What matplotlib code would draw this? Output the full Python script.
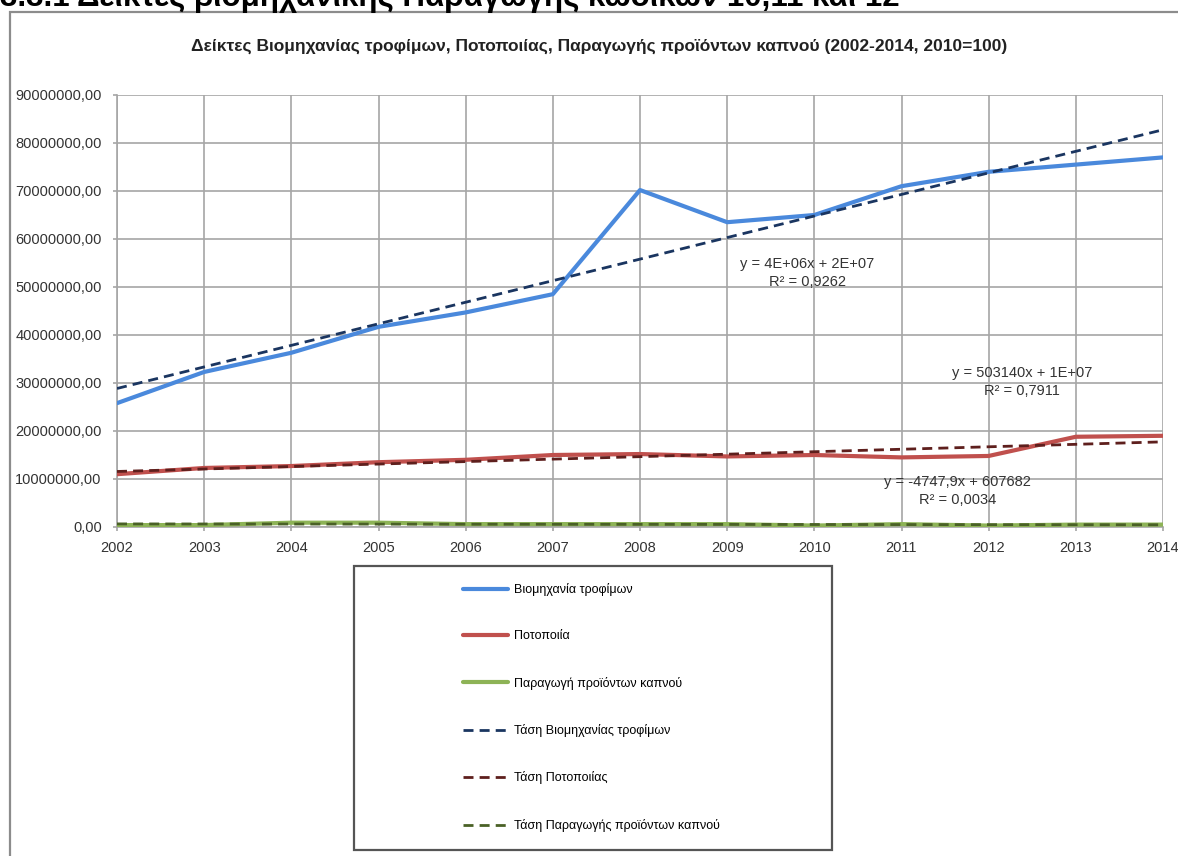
import numpy as np
import matplotlib
matplotlib.use('Agg')
import matplotlib.pyplot as plt
from matplotlib.patches import Rectangle
from matplotlib.ticker import FuncFormatter

# data
years = [2002, 2003, 2004, 2005, 2006, 2007, 2008, 2009, 2010, 2011, 2012, 2013, 2014]
food = [25.8e6, 32.3e6, 36.3e6, 41.7e6, 44.7e6, 48.5e6, 70.2e6, 63.5e6, 65.0e6, 71.0e6, 74.0e6, 75.5e6, 77.0e6]
drinks = [11.0e6, 12.3e6, 12.7e6, 13.5e6, 14.0e6, 15.0e6, 15.2e6, 14.7e6, 15.0e6, 14.5e6, 14.8e6, 18.8e6, 19.0e6]
tobacco = [0.4e6, 0.4e6, 0.9e6, 0.9e6, 0.6e6, 0.6e6, 0.6e6, 0.6e6, 0.3e6, 0.6e6, 0.3e6, 0.5e6, 0.5e6]

series_names = ['Βιομηχανία τροφίμων', 'Ποτοποιία', 'Παραγωγή προϊόντων καπνού']
trend_names = ['Τάση Βιομηχανίας τροφίμων', 'Τάση Ποτοποιίας', 'Τάση Παραγωγής προϊόντων καπνού']
trend_labels = ['y = 4E+06x + 2E+07\nR² = 0,9262',
                'y = 503140x + 1E+07\nR² = 0,7911',
                'y = -4747,9x + 607682\nR² = 0,0034']
# where the equation boxes sit (year, value)
label_pos = [(2009.92, 52.9e6), (2012.38, 30.2e6), (2011.64, 7.5e6)]

line_colors = ['#4a89dc', '#c0504d', '#8db356']
trend_colors = ['#1a3560', '#5e1f1d', '#4a6126']

plt.rcParams['font.family'] = ['Liberation Sans', 'DejaVu Sans']

fig = plt.figure(figsize=(11.78, 8.56), dpi=100)

# document heading, cut by the top of the screenshot
fig.text(0.0, 1 - 6 / 856, '3.3.1 Δείκτες βιομηχανικής Παραγωγής κωδικών 10,11 και 12',
         fontsize=22.5, fontweight='bold', va='baseline', ha='left')

# chart frame
fig.patches.append(Rectangle((10 / 1178, -0.1), 1.2, 1 - 12 / 856 + 0.1,
                             transform=fig.transFigure, fill=False,
                             edgecolor='#8c8c8c', linewidth=1.6))

fig.text(599 / 1178, 1 - 46 / 856,
         'Δείκτες Βιομηχανίας τροφίμων, Ποτοποιίας, Παραγωγής προϊόντων καπνού (2002-2014, 2010=100)',
         fontsize=12.5, fontweight='bold', ha='center', va='center', color='#222222')

ax = fig.add_axes([117 / 1178, 1 - 527 / 856, (1163 - 117) / 1178, (527 - 95) / 856])

x = np.arange(1, len(years) + 1)
handles = []
for vals, name, col in zip([food, drinks, tobacco], series_names, line_colors):
    h, = ax.plot(years, vals, color=col, linewidth=3.0, label=name, solid_capstyle='round', zorder=3)
    handles.append(h)

for vals, name, col in zip([food, drinks, tobacco], trend_names, trend_colors):
    k, b = np.polyfit(x, vals, 1)
    h, = ax.plot(years, k * x + b, color=col, linewidth=2.0, dashes=(3.6, 2.2), label=name, zorder=4)
    handles.append(h)

# trendline equations
for txt, (lx, ly) in zip(trend_labels, label_pos):
    ax.text(lx, ly, txt, ha='center', va='center', fontsize=10.5, color='#333333', linespacing=1.35)

ax.set_xlim(2002, 2014)
ax.set_ylim(0, 90e6)
ax.set_xticks(years)
ax.set_yticks(np.arange(0, 90e6 + 1, 10e6))
ax.yaxis.set_major_formatter(FuncFormatter(lambda v, p: '%d,00' % int(round(v))))
ax.grid(True, color='#a6a6a6', linewidth=1.2)
ax.set_axisbelow(True)
for s in ['top', 'right']:
    ax.spines[s].set_visible(False)
for s in ['left', 'bottom']:
    ax.spines[s].set_color('#a6a6a6')
    ax.spines[s].set_linewidth(1.2)
ax.tick_params(axis='both', labelsize=10.5, colors='#a6a6a6', labelcolor='#333333', length=3, width=1.2)
ax.tick_params(axis='x', pad=7)
ax.tick_params(axis='y', pad=8)

# legend box
fig.patches.append(Rectangle((354 / 1178, 1 - 850 / 856), (832 - 354) / 1178, (850 - 566) / 856,
                             transform=fig.transFigure, fill=False,
                             edgecolor='#555555', linewidth=1.6))
fig.legend(handles=handles, loc='upper left', bbox_to_anchor=(463 / 1178, 1 - 583 / 856),
           frameon=False, fontsize=9, labelspacing=2.75, handlelength=3.6,
           handletextpad=0.5, borderpad=0, borderaxespad=0)

fig.savefig('out.png', dpi=100)
